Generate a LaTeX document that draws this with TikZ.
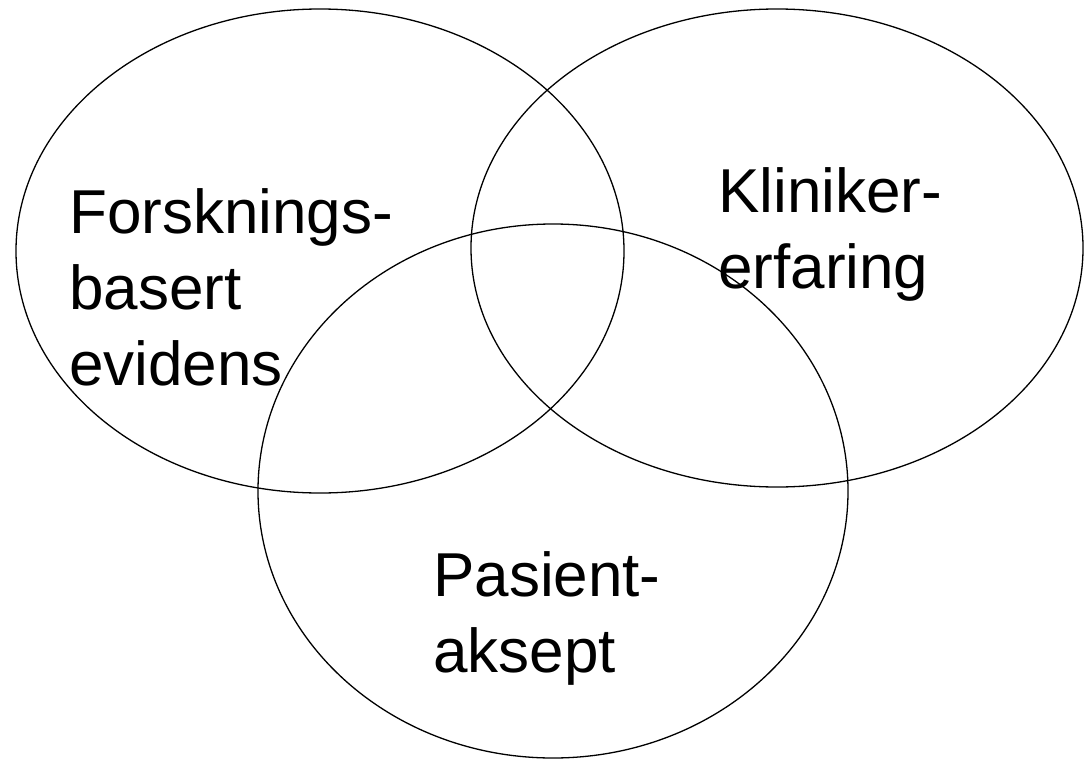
\documentclass[tikz,border=0pt]{standalone}
\usepackage{fontspec}
\setmainfont{Liberation Sans}
\usepackage{tikz}
\tikzset{venntext/.style={anchor=base west,inner sep=0pt,align=left,font=\fontsize{62}{76}\selectfont}}

\begin{document}
\begin{tikzpicture}[line cap=round,line join=round,x=1pt,y=-1pt]
			\useasboundingbox (0,0) rectangle (1084,760);
			\draw [line width=1.3pt] (320,251) ellipse [x radius=304pt,y radius=242pt];
			\draw [line width=1.3pt] (777,248) ellipse [x radius=306pt,y radius=239pt];
			\draw [line width=1.3pt] (553,491) ellipse [x radius=295pt,y radius=267pt];
			% base anchor sits on the last line
			\node[venntext] (forskning) at (69,385) {Forsknings-\\basert\\evidens};
			\node[venntext] (kliniker) at (718,288) {Kliniker-\\erfaring};
			\node[venntext] (pasient) at (433,672) {Pasient-\\aksept};
			\end{tikzpicture}
\end{document}
